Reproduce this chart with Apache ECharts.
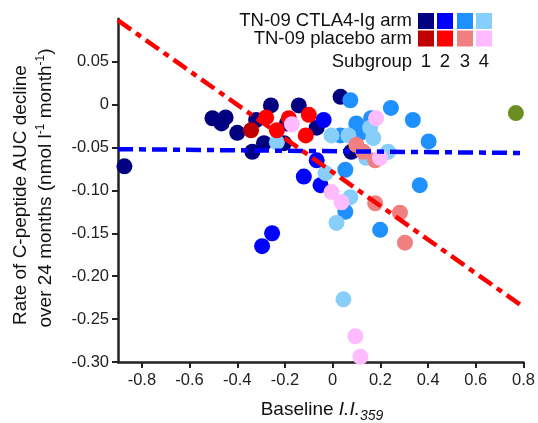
<!DOCTYPE html>
<html><head><meta charset="utf-8">
<script src="https://cdn.jsdelivr.net/npm/echarts@6/dist/echarts.min.js"></script>
<style>html,body{margin:0;padding:0;background:#fff}#c{width:538px;height:423px}</style>
</head><body><div id="c"></div>
<script>
// Data (x = baseline I.I.359, y = rate of C-peptide AUC decline)
var ctla1 = [[-0.873,-0.072],[-0.504,-0.016],[-0.466,-0.022],[-0.449,-0.015],[-0.400,-0.033],[-0.321,-0.018],[-0.337,-0.055],[-0.288,-0.045],[-0.259,-0.001],[-0.142,-0.001],[-0.204,-0.045],[-0.192,-0.022],[-0.067,-0.027],[0.033,0.009],[0.078,-0.055]];
var ctla2 = [[-0.038,-0.018],[-0.121,-0.084],[-0.051,-0.094],[-0.254,-0.150],[-0.296,-0.165],[-0.067,-0.065]];
var ctla3 = [[0.074,0.005],[0.099,-0.022],[0.116,-0.033],[0.032,-0.036],[0.161,-0.016],[0.244,-0.004],[0.336,-0.018],[0.402,-0.043],[0.365,-0.094],[0.053,-0.076],[0.053,-0.125],[0.199,-0.146]];
var ctla4 = [[-0.234,-0.044],[-0.005,-0.036],[0.066,-0.036],[0.157,-0.027],[0.170,-0.039],[0.232,-0.055],[0.140,-0.062],[-0.030,-0.080],[0.074,-0.108],[0.016,-0.138],[0.045,-0.227]];
var plac1 = [[-0.342,-0.030]];
var plac2 = [[-0.279,-0.015],[-0.234,-0.030],[-0.184,-0.016],[-0.100,-0.012],[-0.113,-0.036]];
var plac3 = [[0.099,-0.047],[0.128,-0.055],[0.178,-0.065],[0.178,-0.115],[0.282,-0.126],[0.303,-0.161]];
var plac4 = [[-0.171,-0.023],[0.182,-0.016],[0.198,-0.062],[-0.005,-0.102],[0.037,-0.114],[0.095,-0.270],[0.116,-0.294]];
var other = [[0.768,-0.010]];
var placeboFit = [[-0.9,0.098],[0.8,-0.236]];
var ctlaFit = [[-0.9,-0.052],[0.8,-0.0565]];
var xTicks = [-0.8,-0.6,-0.4,-0.2,0,0.2,0.4,0.6,0.8];
var xTickLabels = ['-0.8','-0.6','-0.4','-0.2','0','0.2','0.4','0.6','0.8'];
var yTicks = [0.05,0,-0.05,-0.10,-0.15,-0.20,-0.25,-0.30];
var yTickLabels = ['0.05','0','-0.05','-0.10','-0.15','-0.20','-0.25','-0.30'];
var legendRows = ['TN-09 CTLA4-Ig arm','TN-09 placebo arm'];
var subgroups = ['1','2','3','4'];

var ctlaColors = ['#000080','#0000ff','#1e90ff','#87cefa'];
var placColors = ['#c00000','#ff0000','#f08080','#ffbbff'];
var font = '"Liberation Sans", Arial, sans-serif';

function lab(ticks, labels){ return function(v){ for (var i=0;i<ticks.length;i++){ if (Math.abs(v-ticks[i])<1e-6) return labels[i]; } return ''; }; }

function sc(data, color){ return {type:'scatter', data:data, symbolSize:16, itemStyle:{color:color, opacity:1}, z:2, silent:true}; }

var series = [
  sc(ctla1, ctlaColors[0]), sc(ctla2, ctlaColors[1]), sc(ctla3, ctlaColors[2]), sc(ctla4, ctlaColors[3]),
  sc(plac1, placColors[0]), sc(plac2, placColors[1]), sc(plac3, placColors[2]), sc(plac4, placColors[3]),
  sc(other, '#6b8e23'),
  {type:'line', data:ctlaFit, symbol:'none', z:5, lineStyle:{color:'#0000ff', width:4.5, type:[15,6,7,6]}, silent:true},
  {type:'line', data:placeboFit, symbol:'none', z:5, lineStyle:{color:'#ff0000', width:4.5, type:[16,6,6,6]}, silent:true}
];

var LF = '18.5px ';
var graphics = [];
var sx = [418,437,457,476];
for (var i=0;i<4;i++){
  graphics.push({type:'rect', left:sx[i], top:13, shape:{width:16,height:16}, style:{fill:ctlaColors[i]}});
  graphics.push({type:'rect', left:sx[i], top:30.5, shape:{width:16,height:16}, style:{fill:placColors[i]}});
  graphics.push({type:'text', x:sx[i]+8, y:62, style:{text:subgroups[i], font:LF+font, fill:'#111', align:'center', verticalAlign:'middle'}});
}
graphics.push({type:'text', x:412, y:21, style:{text:legendRows[0], font:LF+font, fill:'#111', align:'right', verticalAlign:'middle'}});
graphics.push({type:'text', x:412, y:39, style:{text:legendRows[1], font:LF+font, fill:'#111', align:'right', verticalAlign:'middle'}});
graphics.push({type:'text', x:412, y:62, style:{text:'Subgroup', font:LF+font, fill:'#111', align:'right', verticalAlign:'middle'}});
// y axis title
graphics.push({type:'text', x:21, y:195, rotation:Math.PI/2, style:{text:'Rate of C-peptide AUC decline', font:'19px '+font, fill:'#111', align:'center', verticalAlign:'middle'}});
graphics.push({type:'text', x:46, y:188, rotation:Math.PI/2, style:{
  text:'{n|over 24 months (nmol l}{s|-1}{n| month}{s|-1}{n|)}', align:'center', verticalAlign:'middle',
  rich:{n:{font:'19px '+font, fill:'#111'}, s:{font:'12px '+font, fill:'#111', padding:[0,0,10,0]}}
}});
// x axis title
graphics.push({type:'text', x:322, y:410, style:{
  text:'{n|Baseline }{i|I.I.}{s|359}', align:'center', verticalAlign:'middle',
  rich:{n:{font:'19px '+font, fill:'#111'}, i:{font:'italic 19px '+font, fill:'#111'}, s:{font:'italic 14px '+font, fill:'#111', padding:[12,0,0,0]}}
}});

var chart = echarts.init(document.getElementById('c'), null, {renderer:'canvas'});
chart.setOption({
  animation:false,
  backgroundColor:'#fff',
  grid:{left:118, right:11.3, top:18.7, bottom:61},
  xAxis:{type:'value', min:-0.9, max:0.8, interval:0.1,
    axisLine:{onZero:false, lineStyle:{color:'#222', width:2.5}},
    axisTick:{show:true, customValues:xTicks, length:6, lineStyle:{color:'#222', width:2}},
    axisLabel:{customValues:xTicks, formatter:lab(xTicks,xTickLabels), fontSize:16.5, fontFamily:font, color:'#222', margin:10},
    splitLine:{show:false}},
  yAxis:{type:'value', min:-0.3, max:0.1, interval:0.05,
    axisLine:{show:true, onZero:false, lineStyle:{color:'#222', width:2.5}},
    axisTick:{show:true, customValues:yTicks, length:6, lineStyle:{color:'#222', width:2}},
    axisLabel:{customValues:yTicks, formatter:lab(yTicks,yTickLabels), fontSize:16.5, fontFamily:font, color:'#222', margin:9},
    splitLine:{show:false}},
  series:series,
  graphic:graphics
});
</script></body></html>
